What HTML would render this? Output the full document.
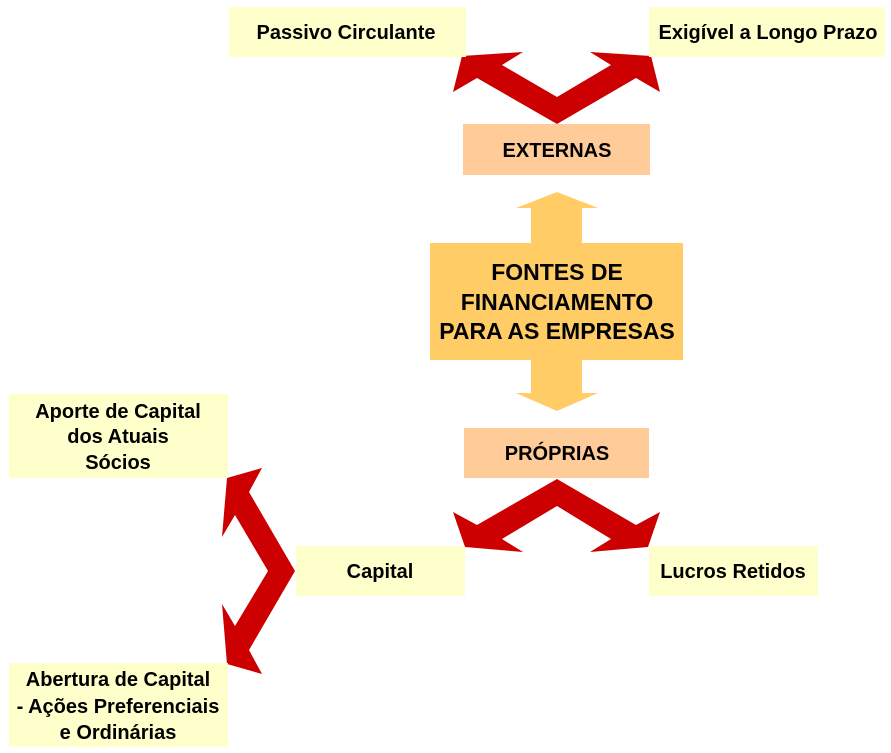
<!DOCTYPE html>
<html>
<head>
<meta charset="utf-8">
<style>
  html, body { margin:0; padding:0; background:#fff; }
  svg { display:block; }
  text { font-family: "Liberation Sans", Arial, sans-serif; font-weight:bold; fill:#000; }
</style>
</head>
<body>
<svg width="891" height="753" viewBox="0 0 891 753" xmlns="http://www.w3.org/2000/svg">
  <rect x="0" y="0" width="891" height="753" fill="#fff"/>

  <!-- Red arrows (drawn behind boxes) -->
  <polygon fill="#CC0000" points="557,124 477,78 453,92 462,56 523,52 502,65 557,97 611,65 590,52 651,56 660,92 636,78"/>
  <polygon fill="#CC0000" points="557,479 477,525 453,512 465,547 523,552 502,539 557,506 611,539 590,552 648,547 660,512 636,525"/>
  <polygon fill="#CC0000" points="295,571 249,492 262,468 227,478 222,537 235,515 268,571 235,626 222,604 227,664 262,674 249,650"/>

  <!-- Yellow double arrow -->
  <polygon fill="#FFCC66" points="557,192 598,208 582,208 582,243 683,243 683,360 582,360 582,393 598,393 557,411 516,393 531,393 531,360 430,360 430,243 531,243 531,208 516,208"/>

  <!-- Boxes -->
  <rect x="229" y="7" width="237" height="50" fill="#FFFFCC"/>
  <rect x="649" y="7" width="236" height="50" fill="#FFFFCC"/>
  <rect x="463" y="124" width="187" height="51" fill="#FFCC99"/>
  <rect x="464" y="428" width="185" height="50" fill="#FFCC99"/>
  <rect x="296" y="546" width="169" height="50" fill="#FFFFCC"/>
  <rect x="649" y="546" width="169" height="50" fill="#FFFFCC"/>
  <rect x="9" y="394" width="219" height="84" fill="#FFFFCC"/>
  <rect x="9" y="663" width="219" height="84" fill="#FFFFCC"/>

  <!-- Text -->
  <text x="346" y="39" font-size="20" text-anchor="middle">Passivo Circulante</text>
  <text x="768" y="39" font-size="20" text-anchor="middle">Exigível a Longo Prazo</text>
  <text x="557" y="157" font-size="20" text-anchor="middle">EXTERNAS</text>
  <text x="557" y="460" font-size="20" text-anchor="middle">PRÓPRIAS</text>
  <text x="380" y="578" font-size="20" text-anchor="middle">Capital</text>
  <text x="733" y="578" font-size="20" text-anchor="middle">Lucros Retidos</text>

  <text x="557" y="280" font-size="23" text-anchor="middle">FONTES DE</text>
  <text x="557" y="310" font-size="23" text-anchor="middle">FINANCIAMENTO</text>
  <text x="557" y="339" font-size="23" text-anchor="middle">PARA AS EMPRESAS</text>

  <text x="118" y="418" font-size="20" text-anchor="middle">Aporte de Capital</text>
  <text x="118" y="443" font-size="20" text-anchor="middle">dos Atuais</text>
  <text x="118" y="469" font-size="20" text-anchor="middle">Sócios</text>

  <text x="118" y="686" font-size="20" text-anchor="middle">Abertura de Capital</text>
  <text x="118" y="713" font-size="20" text-anchor="middle">- Ações Preferenciais</text>
  <text x="118" y="739" font-size="20" text-anchor="middle">e Ordinárias</text>
</svg>
</body>
</html>
